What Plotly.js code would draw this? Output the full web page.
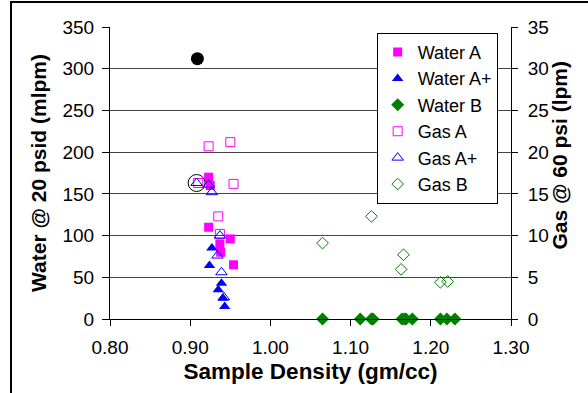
<!DOCTYPE html>
<html>
<head>
<meta charset="utf-8">
<script src="https://cdn.plot.ly/plotly-3.0.1.min.js"></script>
<style>
html,body{margin:0;padding:0;overflow:hidden;background:#fff;}
#chart{width:588px;height:393px;position:absolute;left:0;top:0;}
#frame{position:absolute;left:10px;top:1px;width:700px;height:500px;border:2px solid #000;pointer-events:none;}
</style>
</head>
<body>
<div id="chart"></div>
<div id="frame"></div>
<script>
// Water flow @ 20 psid (mlpm) – left axis
const waterA_x = [0.923, 0.925, 0.923, 0.950, 0.937, 0.938, 0.954];
const waterA_y = [170, 160, 110, 96, 90, 80, 65];
const waterAp_x = [0.927, 0.924, 0.939, 0.935, 0.941, 0.943];
const waterAp_y = [85, 64, 43, 35, 25, 15];
const waterB_x = [1.065, 1.112, 1.126, 1.128, 1.164, 1.167, 1.169, 1.177, 1.212, 1.220, 1.230];
const waterB_y = [0, 0, 0, 0, 0, 0, 0, 0, 0, 0, 0];
// Gas flow @ 60 psi (lpm) – right axis
const gasA_x = [0.923, 0.950, 0.954, 0.910, 0.935, 0.937];
const gasA_y = [20.7, 21.2, 16.2, 16.3, 12.3, 10.2];
const gasAp_x = [0.908, 0.923, 0.927, 0.937, 0.934, 0.939, 0.942];
const gasAp_y = [16.3, 16.1, 15.2, 10.0, 7.6, 5.6, 2.6];
const gasB_x = [1.065, 1.126, 1.166, 1.163, 1.212, 1.221];
const gasB_y = [9.1, 12.3, 7.7, 5.95, 4.4, 4.5];
// highlighted points (not in legend)
const outlier_x = [0.909];
const outlier_y = [312];
const circled_x = [0.908];
const circled_y = [163];

const xTicks = [0.8, 0.9, 1.0, 1.1, 1.2, 1.3];
const xTickText = ["0.80", "0.90", "1.00", "1.10", "1.20", "1.30"];

const MAG = '#FF00FF', BLU = '#0000FF', GRN = '#008000';
const FONT = 'Liberation Sans, Arial, sans-serif';

const traces = [
  {name:'Water A', x:waterA_x, y:waterA_y, mode:'markers', type:'scatter', cliponaxis:false,
   marker:{symbol:'square', size:9, color:MAG}},
  {name:'Water A+', x:waterAp_x, y:waterAp_y, mode:'markers', type:'scatter', cliponaxis:false,
   marker:{symbol:'triangle-up', size:10, color:BLU}},
  {name:'Water B', x:waterB_x, y:waterB_y, mode:'markers', type:'scatter', cliponaxis:false,
   marker:{symbol:'diamond', size:10, color:GRN}},
  {name:'Gas A', x:gasA_x, y:gasA_y, yaxis:'y2', mode:'markers', type:'scatter', cliponaxis:false,
   marker:{symbol:'square-open', size:9, color:MAG, line:{width:1, color:MAG}}},
  {name:'Gas A+', x:gasAp_x, y:gasAp_y, yaxis:'y2', mode:'markers', type:'scatter', cliponaxis:false,
   marker:{symbol:'triangle-up-open', size:10, color:BLU, line:{width:1, color:BLU}}},
  {name:'Gas B', x:gasB_x, y:gasB_y, yaxis:'y2', mode:'markers', type:'scatter', cliponaxis:false,
   marker:{symbol:'diamond-open', size:9, color:GRN, line:{width:1, color:GRN}}},
  {name:'outlier', x:outlier_x, y:outlier_y, mode:'markers', type:'scatter', showlegend:false,
   marker:{symbol:'circle', size:13, color:'#000'}},
  {name:'circled', x:circled_x, y:circled_y, mode:'markers', type:'scatter', showlegend:false,
   marker:{symbol:'circle-open', size:17, color:'#000', line:{width:1, color:'#000'}}}
];

const layout = {
  width:588, height:393,
  margin:{l:110, r:77, t:27, b:74, pad:0},
  paper_bgcolor:'rgba(0,0,0,0)', plot_bgcolor:'#fff',
  font:{family:FONT, size:19, color:'#000'},
  showlegend:true,
  legend:{x:0.665, y:0.98, xanchor:'left', yanchor:'top', bgcolor:'#fff',
          bordercolor:'#000', borderwidth:1, font:{family:FONT, size:18, color:'#000'},
          tracegroupgap:0, itemwidth:30},
  xaxis:{range:[0.8, 1.3], tickvals:xTicks, ticktext:xTickText, showgrid:false, zeroline:false,
         showline:true, linecolor:'#000', linewidth:1, ticks:'outside', ticklen:6, tickcolor:'#000',
         ticklabelstandoff:5,
         title:{text:'<b>Sample Density (gm/cc)</b>', font:{family:FONT, size:22.5, color:'#000'}, standoff:6}},
  yaxis:{range:[0, 350], dtick:50, showgrid:true, gridcolor:'#444', gridwidth:1, zeroline:false,
         showline:true, linecolor:'#000', linewidth:1, ticks:'outside', ticklen:7, tickcolor:'#000',
         ticklabelstandoff:4,
         title:{text:'<b>Water @ 20 psid (mlpm)</b>', font:{family:FONT, size:21, color:'#000'}, standoff:10}},
  yaxis2:{range:[0, 35], dtick:5, overlaying:'y', side:'right', showgrid:false, zeroline:false,
          showline:true, linecolor:'#000', linewidth:1, ticks:'outside', ticklen:6, tickcolor:'#000',
          ticklabelstandoff:6},
  annotations:[{text:'<b>Gas @ 60 psi (lpm)</b>', xref:'paper', yref:'paper', x:1.122, y:0.563,
                xanchor:'center', yanchor:'middle', textangle:-90, showarrow:false,
                font:{family:FONT, size:21, color:'#000'}}]
};

Plotly.newPlot('chart', traces, layout, {staticPlot:true, displayModeBar:false});
</script>
</body>
</html>
